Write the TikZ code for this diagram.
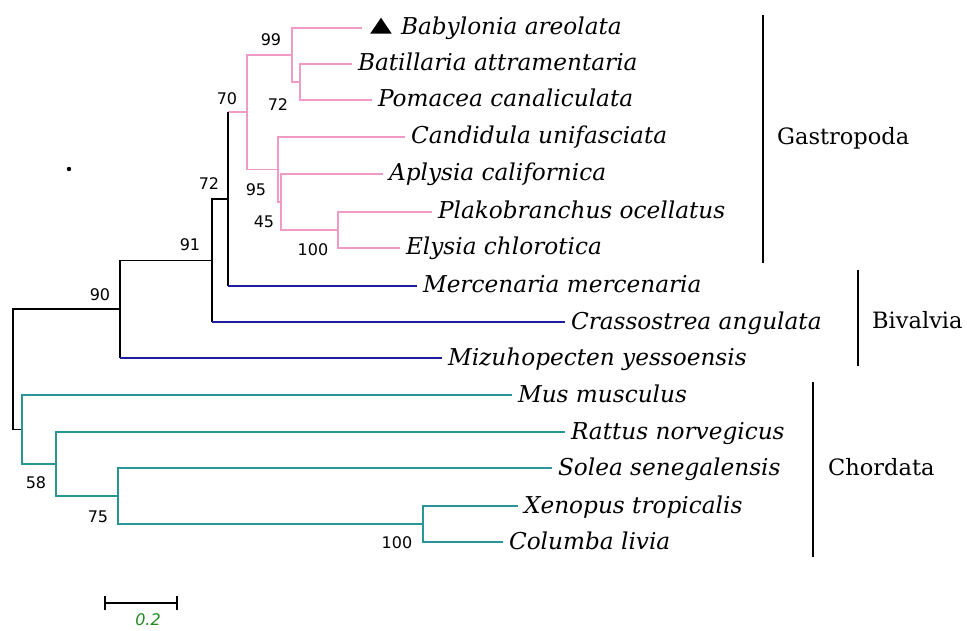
\documentclass[tikz,border=0pt]{standalone}
\usepackage{fontspec}
\setmainfont{DejaVu Serif}
\newfontfamily\numfont{DejaVu Sans}
\usetikzlibrary{shapes.geometric}
\definecolor{pk}{RGB}{240,155,198}
\definecolor{bl}{RGB}{30,30,160}
\definecolor{tl}{RGB}{40,150,150}
\definecolor{gr}{RGB}{30,140,30}
\tikzset{
  br/.style={line width=1.5pt},
  pkl/.style={br, draw=pk},
  bll/.style={br, draw=bl},
  tll/.style={br, draw=tl},
  bkl/.style={br, draw=black},
  leaf/.style={anchor=west, font=\fontsize{23.2}{25}\selectfont\itshape, text height=17pt, text depth=3pt, inner ysep=0pt, inner xsep=6pt, outer sep=0pt},
  grp/.style={anchor=west, font=\fontsize{22.5}{24}\selectfont, text height=16pt, text depth=0pt, inner sep=0pt},
  boot/.style={font=\numfont\fontsize{16}{18}\selectfont, inner sep=0pt},
}
\begin{document}
\begin{tikzpicture}[x=1pt,y=-1pt]
\useasboundingbox (0,0) rectangle (967,631);
% leaves
\coordinate (babend) at (362,28);
\node[fill=black, isosceles triangle, isosceles triangle apex angle=68, shape border rotate=90, minimum height=16pt, inner sep=0pt] (tri) at (381,28) {};
\node[leaf, inner xsep=0pt] (bab) at (401,28) {Babylonia areolata};
\node[leaf] (bat) at (352,64) {Batillaria attramentaria};
\node[leaf] (pom) at (372,100) {Pomacea canaliculata};
\node[leaf] (can) at (405,137) {Candidula unifasciata};
\node[leaf] (apl) at (383,174) {Aplysia californica};
\node[leaf] (pla) at (432,212) {Plakobranchus ocellatus};
\node[leaf] (ely) at (400,248) {Elysia chlorotica};
\node[leaf] (mer) at (417,286) {Mercenaria mercenaria};
\node[leaf] (cra) at (565,322) {Crassostrea angulata};
\node[leaf] (miz) at (442,358) {Mizuhopecten yessoensis};
\node[leaf] (mus) at (512,395) {Mus musculus};
\node[leaf] (rat) at (565,432) {Rattus norvegicus};
\node[leaf] (sol) at (552,468) {Solea senegalensis};
\node[leaf] (xen) at (518,506) {Xenopus tropicalis};
\node[leaf] (col) at (503,542) {Columba livia};
% internal nodes
\coordinate (n72p) at (300,82);
\coordinate (n99) at (292,55);
\coordinate (n100) at (338,230);
\coordinate (n45) at (281,202);
\coordinate (n95) at (278,169.5);
\coordinate (n70) at (247,112);
\coordinate (n72b) at (228,199);
\coordinate (n91) at (212,260.5);
\coordinate (n90) at (120,309);
\coordinate (nc4) at (423,524);
\coordinate (nc3) at (118,496);
\coordinate (nc2) at (56,464);
\coordinate (nc1) at (22,429.5);
\coordinate (root) at (13,369);
% gastropoda (pink)
\draw[pkl] (n99) |- (babend);
\draw[pkl] (n99) |- (n72p);
\draw[pkl] (n72p) |- (bat.west);
\draw[pkl] (n72p) |- (pom.west);
\draw[pkl] (n70) |- (n99);
\draw[pkl] (n70) |- (n95);
\draw[pkl] (n95) |- (can.west);
\draw[pkl] (n95) |- (n45);
\draw[pkl] (n45) |- (apl.west);
\draw[pkl] (n45) |- (n100);
\draw[pkl] (n100) |- (pla.west);
\draw[pkl] (n100) |- (ely.west);
\draw[pkl] (n72b |- n70) -- (n70);
% backbone (black)
\draw[bkl] (n72b |- n70) -- (n72b |- mer.west);
\draw[bkl] (n91 |- cra.west) |- (n72b);
\draw[bkl] (n90 |- miz.west) |- (n91);
\draw[bkl] (nc1) -| (root) |- (n90);
% bivalvia (blue)
\draw[bll] (n72b |- mer.west) -- (mer.west);
\draw[bll] (n91 |- cra.west) -- (cra.west);
\draw[bll] (n90 |- miz.west) -- (miz.west);
% chordata (teal)
\draw[tll] (nc1) |- (mus.west);
\draw[tll] (nc1) |- (nc2);
\draw[tll] (nc2) |- (rat.west);
\draw[tll] (nc2) |- (nc3);
\draw[tll] (nc3) |- (sol.west);
\draw[tll] (nc3) |- (nc4);
\draw[tll] (nc4) |- (xen.west);
\draw[tll] (nc4) |- (col.west);
% bootstrap values
\node[boot] (b99) at (271,40) {99};
\node[boot] (b72p) at (278,105) {72};
\node[boot] (b70) at (227,99) {70};
\node[boot] (b95) at (256,190) {95};
\node[boot] (b45) at (264,222) {45};
\node[boot] (b100p) at (313,250) {100};
\node[boot] (b72b) at (209,184) {72};
\node[boot] (b91) at (190,245) {91};
\node[boot] (b90) at (100,295) {90};
\node[boot] (b58) at (36,483) {58};
\node[boot] (b75) at (98,517) {75};
\node[boot] (b100c) at (397,543) {100};
% group bars and labels
\coordinate (gtop) at (763,15); \coordinate (gbot) at (763,263);
\coordinate (vtop) at (858,270); \coordinate (vbot) at (858,366);
\coordinate (ctop) at (813,382); \coordinate (cbot) at (813,557);
\draw[bkl] (gtop) -- (gbot);
\draw[bkl] (vtop) -- (vbot);
\draw[bkl] (ctop) -- (cbot);
\node[grp] (gas) at (777,137) {Gastropoda};
\node[grp] (biv) at (872,320) {Bivalvia};
\node[grp] (cho) at (828,467) {Chordata};
% dot
\fill (69,169) circle (2.2pt);
% scale bar
\coordinate (sb1) at (105,603); \coordinate (sb2) at (177,603);
\draw[bkl] (sb1) -- (sb2);
\draw[bkl] ([yshift=-7pt]sb1) -- ([yshift=7pt]sb1);
\draw[bkl] ([yshift=-7pt]sb2) -- ([yshift=7pt]sb2);
\node[font=\numfont\itshape\fontsize{16}{17}\selectfont, text=gr, inner sep=0pt] (sbl) at (148,620) {0.2};
\end{tikzpicture}
\end{document}
